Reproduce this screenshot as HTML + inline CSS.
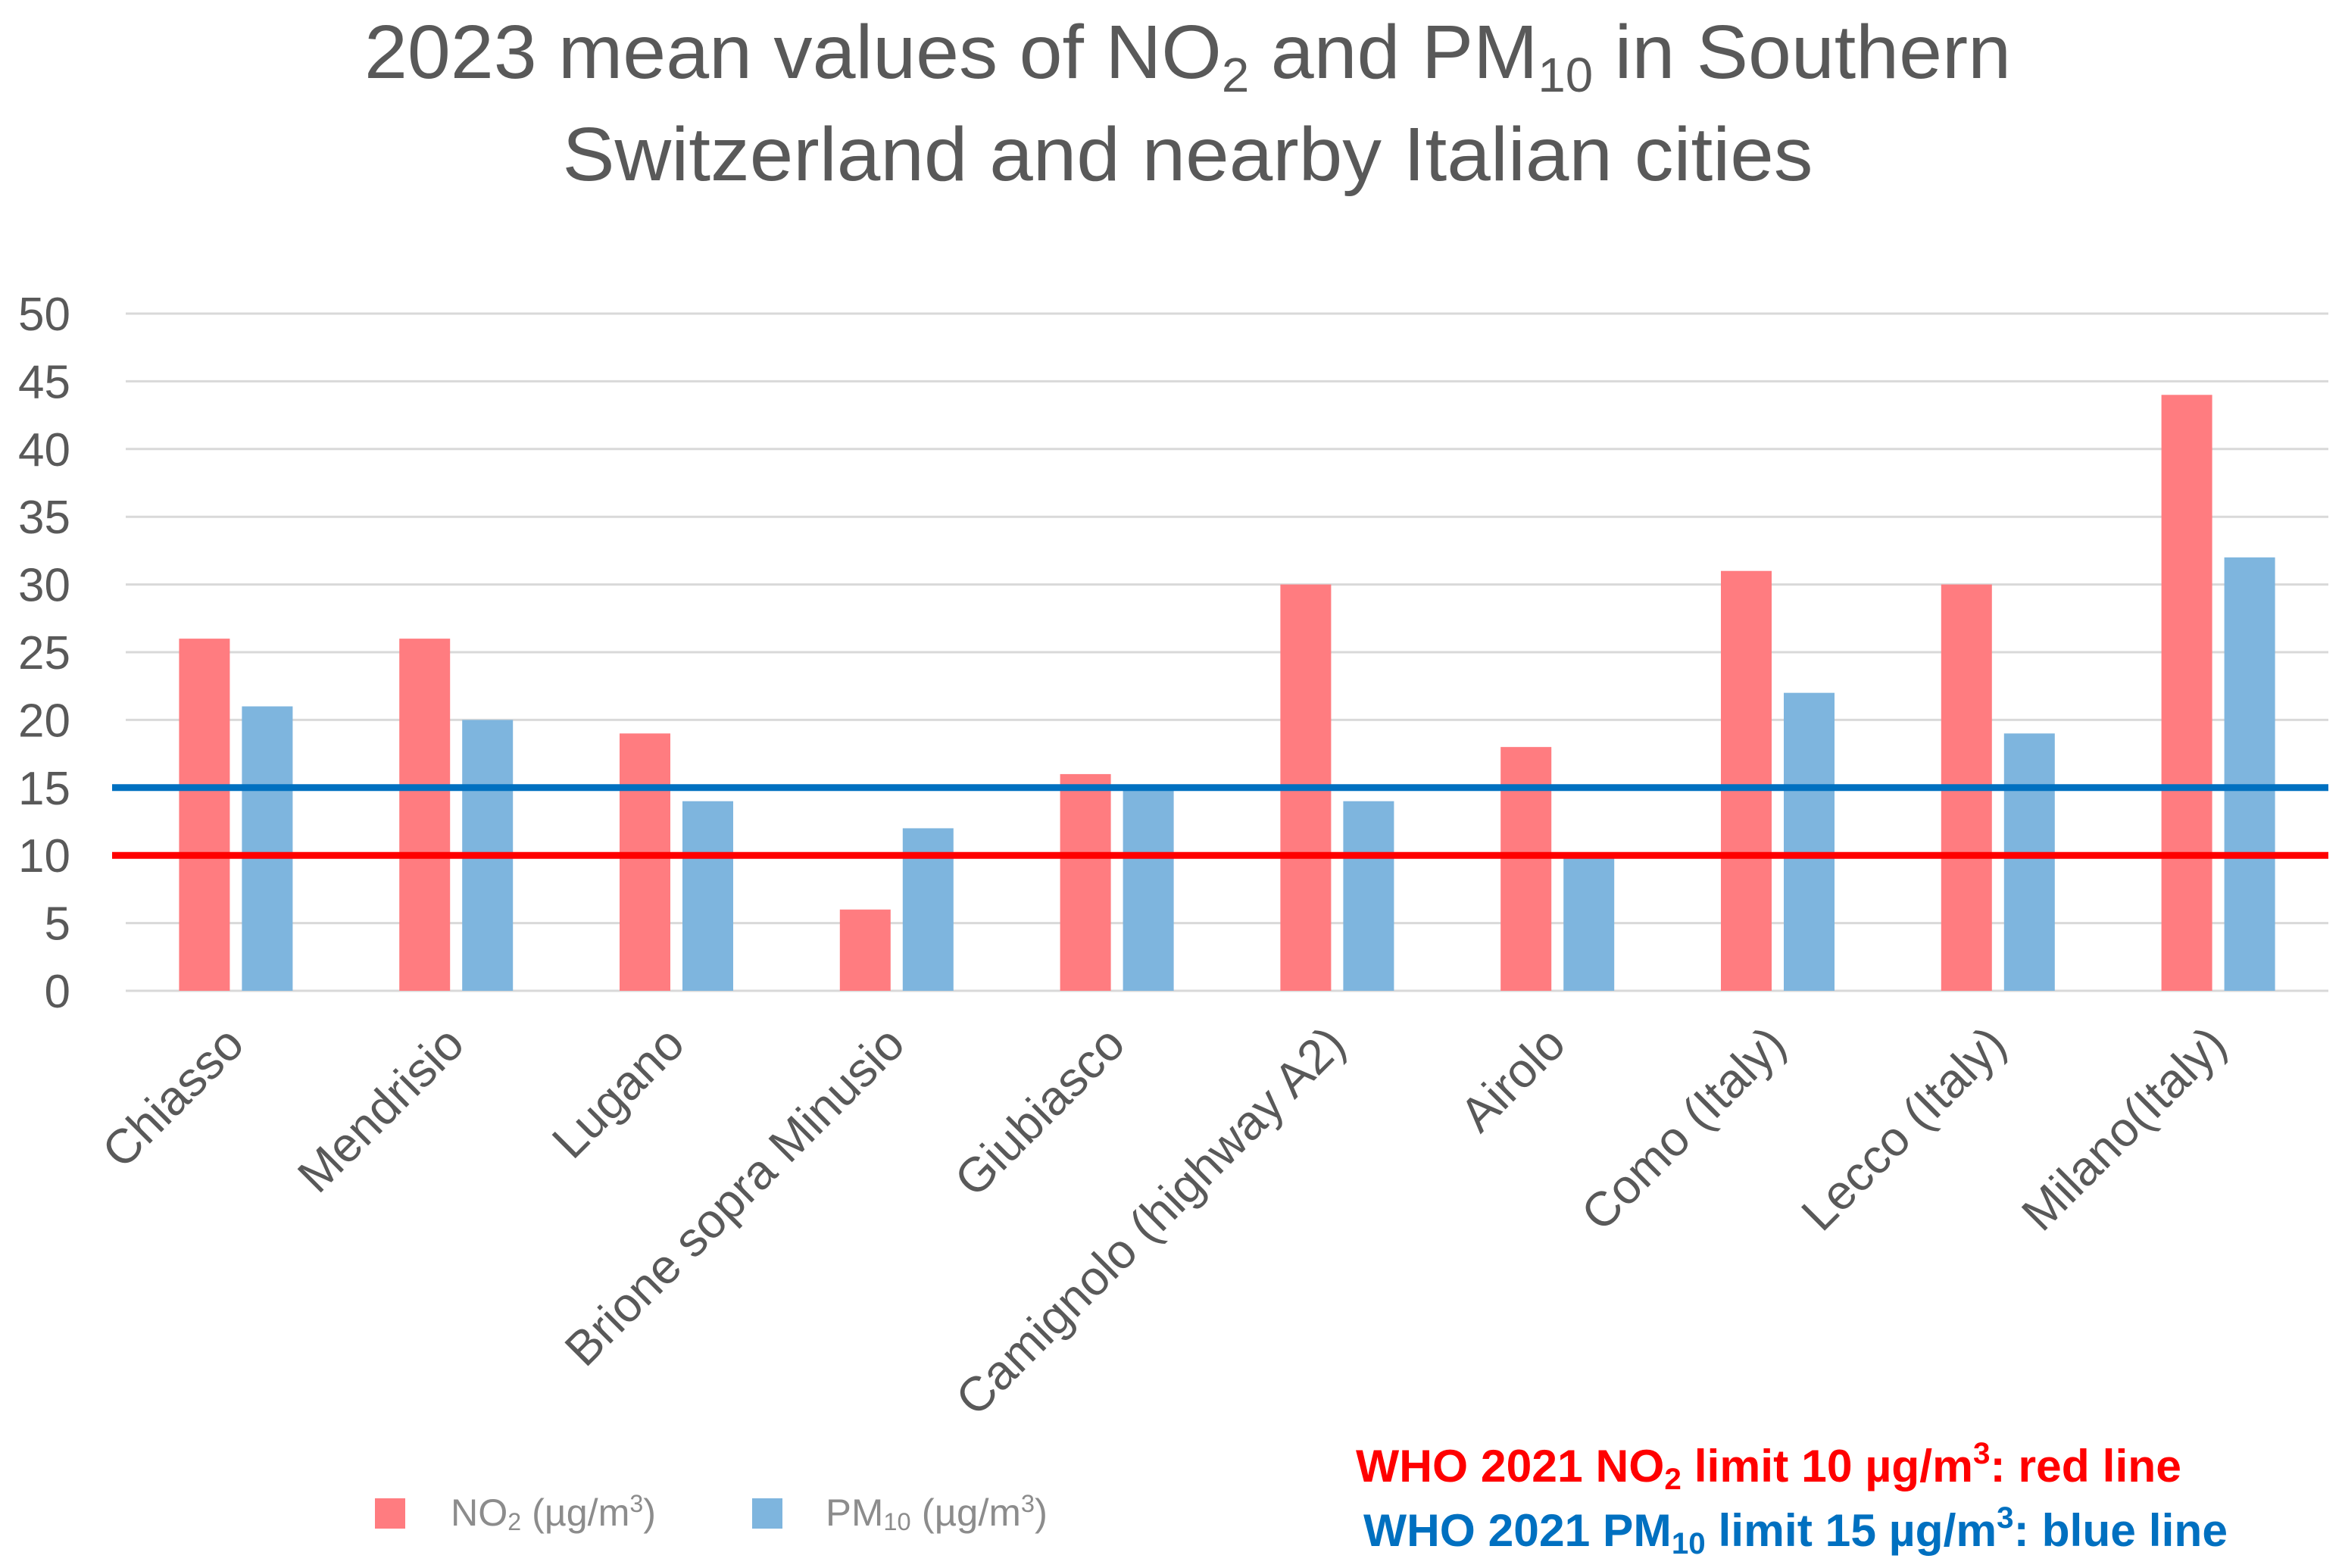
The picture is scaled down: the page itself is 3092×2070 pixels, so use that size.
<!DOCTYPE html>
<html><head><meta charset="utf-8"><style>
html,body{margin:0;padding:0;background:#fff}
svg{display:block}
text{font-family:"Liberation Sans",sans-serif}
</style></head><body>
<svg id="chart" width="3092" height="2070" viewBox="0 0 3092 2070" xmlns="http://www.w3.org/2000/svg">
<g fill="#595959" font-size="100" text-anchor="middle">
<text x="1568" y="103" textLength="2174" lengthAdjust="spacingAndGlyphs">2023 mean values of NO<tspan font-size="64" dy="18">2</tspan><tspan dy="-18"> and PM</tspan><tspan font-size="64" dy="18">10</tspan><tspan dy="-18"> in Southern</tspan></text>
<text x="1568" y="238" textLength="1651" lengthAdjust="spacingAndGlyphs">Switzerland and nearby Italian cities</text>
</g>
<g id="grid"></g>
<g id="yaxis"></g>
<g id="bars"></g>
<g id="limits"></g>
<g id="xaxis"></g>
<g>
<rect x="495" y="1978" width="40" height="40" fill="#FF7C80"/>
<text x="595" y="2014" font-size="50" fill="#8c8c8c" textLength="271" lengthAdjust="spacingAndGlyphs">NO<tspan font-size="32" dy="6">2</tspan><tspan dy="-6"> (µg/m</tspan><tspan font-size="32" dy="-18">3</tspan><tspan dy="18">)</tspan></text>
<rect x="993" y="1978" width="40" height="40" fill="#7EB5DE"/>
<text x="1090" y="2014" font-size="50" fill="#8c8c8c" textLength="293" lengthAdjust="spacingAndGlyphs">PM<tspan font-size="32" dy="6">10</tspan><tspan dy="-6"> (µg/m</tspan><tspan font-size="32" dy="-18">3</tspan><tspan dy="18">)</tspan></text>
</g>
<text x="1790" y="1956" font-size="60" font-weight="bold" fill="#FF0000" textLength="1090" lengthAdjust="spacingAndGlyphs">WHO 2021 NO<tspan font-size="40" dy="10">2</tspan><tspan dy="-10"> limit 10 µg/m</tspan><tspan font-size="40" dy="-24">3</tspan><tspan dy="24">: red line</tspan></text>
<text x="1800" y="2041" font-size="60" font-weight="bold" fill="#0070C0" textLength="1141" lengthAdjust="spacingAndGlyphs">WHO 2021 PM<tspan font-size="40" dy="10">10</tspan><tspan dy="-10"> limit 15 µg/m</tspan><tspan font-size="40" dy="-24">3</tspan><tspan dy="24">: blue line</tspan></text>
</svg>
<script>
const categories = ["Chiasso","Mendrisio","Lugano","Brione sopra Minusio","Giubiasco","Camignolo (highway A2)","Airolo","Como (Italy)","Lecco (Italy)","Milano(Italy)"];
const no2Values = [26,26,19,6,16,30,18,31,30,44];
const pm10Values = [21,20,14,12,15,14,10,22,19,32];
const yTicks = [0,5,10,15,20,25,30,35,40,45,50];
const limitNO2 = 10;
const limitPM10 = 15;

const NS = "http://www.w3.org/2000/svg";
const L = 166, R = 3074, Y0 = 1308, Y50 = 414;
const yMax = 50;
function y(v){ return Y0 - (Y0 - Y50) * v / yMax; }
const band = (R - L) / categories.length;
function xc(i){ return L + (i + 0.5) * band; }
const bw = 67, gap = 8;
function mk(tag, attrs, parent){ const e = document.createElementNS(NS, tag); for (const k in attrs) e.setAttribute(k, attrs[k]); parent.appendChild(e); return e; }

const grid = document.getElementById('grid'), yaxis = document.getElementById('yaxis');
yTicks.forEach(t => {
  const ln = mk('line', {x1:L, x2:R, y1:y(t), y2:y(t), stroke:'#d9d9d9', 'stroke-width':3}, grid);
  
  
  const tx = mk('text', {x:93, y:y(t)+22, 'text-anchor':'end', 'font-size':62, fill:'#595959'}, yaxis);
  tx.textContent = t;
  
  
});

const bars = document.getElementById('bars');
categories.forEach((c, i) => {
  const r = mk('rect', {x:xc(i)-gap-bw, y:y(no2Values[i]), width:bw, height:y(0)-y(no2Values[i]), fill:'#FF7C80'}, bars);
  
  
  const b = mk('rect', {x:xc(i)+gap, y:y(pm10Values[i]), width:bw, height:y(0)-y(pm10Values[i]), fill:'#7EB5DE'}, bars);
  
  
});

const limits = document.getElementById('limits');
const bl = mk('line', {x1:148, x2:R, y1:y(limitPM10), y2:y(limitPM10), stroke:'#0070C0', 'stroke-width':9}, limits);


const rl = mk('line', {x1:148, x2:R, y1:y(limitNO2), y2:y(limitNO2), stroke:'#FF0000', 'stroke-width':9}, limits);



const xaxis = document.getElementById('xaxis');
categories.forEach((c, i) => {
  const ax = xc(i) + 14, ay = 1382;
  const t = mk('text', {x:ax, y:ay, 'text-anchor':'end', 'font-size':64, fill:'#595959', transform:`rotate(-45 ${ax} ${ay})`}, xaxis);
  t.textContent = c;
  
  
});
</script>
</body></html>
